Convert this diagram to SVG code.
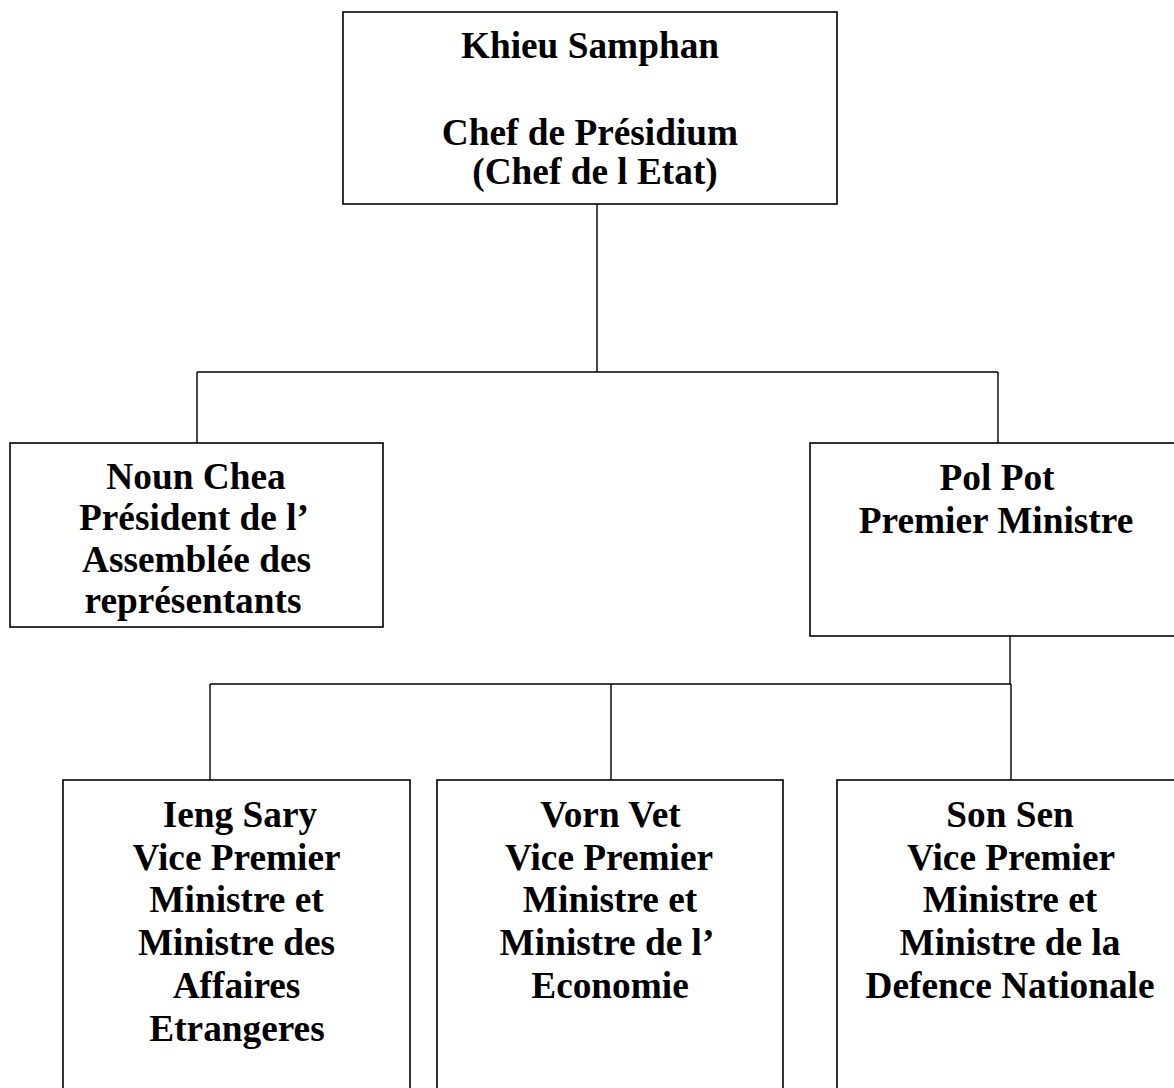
<svg xmlns="http://www.w3.org/2000/svg" width="1174" height="1088" viewBox="0 0 1174 1088">
<style>
.box{fill:#fff;stroke:#000;stroke-width:1.6}
.ln{stroke:#000;stroke-width:1.4;fill:none}
text{font-family:"Liberation Serif","Times New Roman",serif;font-weight:bold;font-size:37.3px;fill:#000;text-anchor:middle}
</style>
<rect width="1174" height="1088" fill="#fff"/>
<g id="connectors">
<path class="ln" d="M597 204V372M197 372H998M197 372V443M998 372V443"/>
<path class="ln" d="M1010 636V684M210 684H1011M210 684V780M611 684V780M1011 684V780"/>
</g>
<g id="khieu-samphan">
<rect class="box" x="343" y="12" width="494" height="192"/>
<text x="590" y="57.5">Khieu Samphan</text>
<text x="590" y="145">Chef de Présidium</text>
<text x="595" y="184">(Chef de l Etat)</text>
</g>
<g id="noun-chea">
<rect class="box" x="10" y="443" width="373" height="184"/>
<text x="196" y="489">Noun Chea</text>
<text x="194" y="530">Président de l’</text>
<text x="196.5" y="572">Assemblée des</text>
<text x="193" y="613">représentants</text>
</g>
<g id="pol-pot">
<rect class="box" x="810" y="443" width="372" height="193"/>
<text x="997" y="490">Pol Pot</text>
<text x="996" y="533">Premier Ministre</text>
</g>
<g id="ieng-sary">
<rect class="box" x="63" y="780" width="347" height="320"/>
<text x="240" y="827">Ieng Sary</text>
<text x="236.5" y="869.5">Vice Premier</text>
<text x="236.5" y="912">Ministre et</text>
<text x="236.5" y="955">Ministre des</text>
<text x="236.5" y="997.5">Affaires</text>
<text x="237" y="1040.5">Etrangeres</text>
</g>
<g id="vorn-vet">
<rect class="box" x="437" y="780" width="346" height="320"/>
<text x="610.5" y="827">Vorn Vet</text>
<text x="609" y="869.5">Vice Premier</text>
<text x="610" y="912">Ministre et</text>
<text x="607" y="955">Ministre de l’</text>
<text x="610" y="997.5">Economie</text>
</g>
<g id="son-sen">
<rect class="box" x="837" y="780" width="346" height="320"/>
<text x="1010" y="827">Son Sen</text>
<text x="1011" y="869.5">Vice Premier</text>
<text x="1010" y="912">Ministre et</text>
<text x="1010" y="955">Ministre de la</text>
<text x="1010" y="997.5">Defence Nationale</text>
</g>
</svg>
